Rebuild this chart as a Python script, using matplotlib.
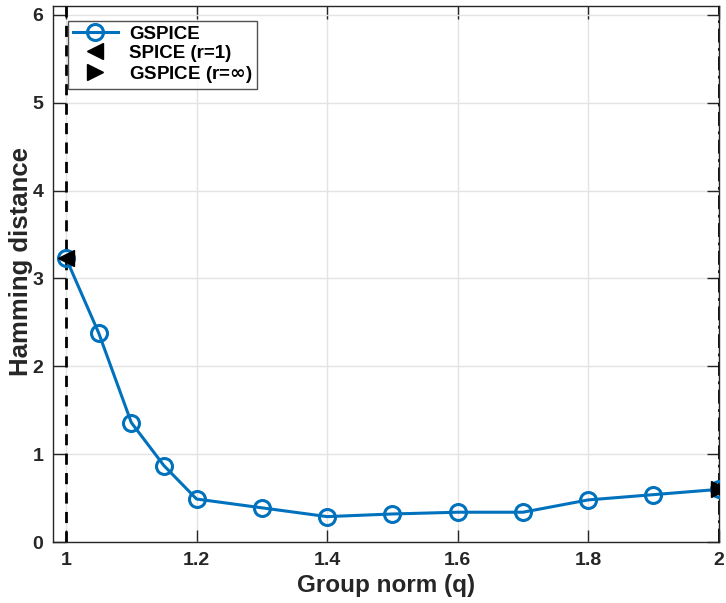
import matplotlib.pyplot as plt
import numpy as np

# group norm values and hamming distances
q_vals = [1.0, 1.05, 1.1, 1.15, 1.2, 1.3, 1.4, 1.5, 1.6, 1.7, 1.8, 1.9, 2.0]
hamming = [3.23, 2.38, 1.36, 0.87, 0.49, 0.39, 0.29, 0.32, 0.34, 0.34, 0.48, 0.54, 0.60]
spice_pt = (1.0, 3.23)
gspice_inf_pt = (2.0, 0.60)

xticks = [1, 1.2, 1.4, 1.6, 1.8, 2]
xtick_labels = ['1', '1.2', '1.4', '1.6', '1.8', '2']
yticks = [0, 1, 2, 3, 4, 5, 6]

plt.rcParams['font.family'] = ['Liberation Sans', 'DejaVu Sans']
plt.rcParams['font.weight'] = 'bold'
plt.rcParams['mathtext.default'] = 'bf'

fig = plt.figure(figsize=(7.26, 6.03), dpi=100)
ax = fig.add_axes([0.073, 0.101, 0.917, 0.889])

blue = '#0072BD'
ax.axvline(1.0, color='black', linestyle=(0, (4, 3)), linewidth=2, zorder=3)
ax.axvline(2.0, color='black', linestyle=(0, (5, 2, 1, 2)), linewidth=2, zorder=3)

ax.plot(q_vals, hamming, color=blue, linewidth=2.2, marker='o', markersize=11.5,
        markerfacecolor='none', markeredgewidth=2.2, label='GSPICE', zorder=4)
ax.plot([spice_pt[0]], [spice_pt[1]], linestyle='none', marker='<', markersize=11,
        color='black', label='SPICE (r=1)', zorder=5)
ax.plot([gspice_inf_pt[0]], [gspice_inf_pt[1]], linestyle='none', marker='>', markersize=11,
        color='black', label=r'GSPICE (r=$\infty$)', zorder=5)

ax.set_xlim(0.98, 2.0)
ax.set_ylim(0, 6.1)
ax.set_xticks(xticks)
ax.set_xticklabels(xtick_labels)
ax.set_yticks(yticks)

ax.grid(True, color='#e3e3e3', linewidth=1)
ax.set_axisbelow(True)
ax.tick_params(direction='in', length=9, width=1, top=True, right=True,
               labelsize=14, colors='#262626', pad=7)
for s in ax.spines.values():
    s.set_color('#262626')
    s.set_linewidth(1)

ax.set_xlabel('Group norm (q)', fontsize=17.5, fontweight='bold', color='#262626', labelpad=4)
ax.set_ylabel('Hamming distance', fontsize=18.5, fontweight='bold', color='#262626')
ax.yaxis.set_label_coords(-0.03, 0.524)

leg = ax.legend(loc='upper left', fontsize=13.5, frameon=True, fancybox=False,
                edgecolor='#262626', borderaxespad=0.8, handlelength=2.4,
                borderpad=0.25, labelspacing=0.1, handletextpad=0.6)
leg.get_frame().set_linewidth(1)
for t in leg.get_texts():
    t.set_color('black')

fig.savefig('out.png', dpi=100)
